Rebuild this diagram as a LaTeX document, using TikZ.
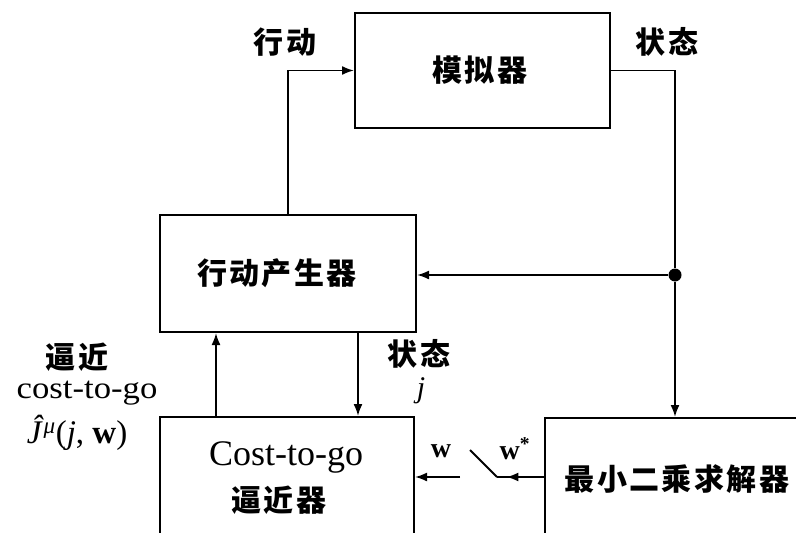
\documentclass[tikz,border=0pt]{standalone}
\usepackage{fontspec}
\setmainfont{Liberation Serif}
\usetikzlibrary{arrows.meta,decorations.markings}
\newfontfamily\cjk[LetterSpace=8]{Noto Sans CJK SC}
\tikzset{
  box/.style={draw, line width=2pt, inner sep=0pt},
  conn/.style={line width=1.9pt},
  arr/.style={conn, -{Latex[length=12pt,width=9pt]}},
  midarr/.style={conn, postaction={decorate}, decoration={markings, mark=at position #1 with {\arrow{Latex[length=12pt,width=9pt]}}}},
  cjklbl/.style={inner sep=0pt, font=\cjk\bfseries\fontsize{30}{33}\selectfont},
  latlbl/.style={inner sep=0pt, font=\fontsize{36}{40}\selectfont},
}
\begin{document}
\begin{tikzpicture}[x=1pt,y=-1pt]
\useasboundingbox (0,0) rectangle (796,533);
\fill[white] (0,0) rectangle (796,533);
% boxes
\node[box, minimum width=255pt, minimum height=115pt] (sim) at (482.5,70.5) {};
\node[box, minimum width=256pt, minimum height=117pt] (act) at (288,273.5) {};
\node[box, minimum width=254pt, minimum height=138pt] (cost) at (287,486) {};
\node[box, minimum width=270pt, minimum height=122pt] (ls) at (680,479) {};
% box texts
\node[cjklbl] (simt) at (480,70) {模拟器};
\node[cjklbl] (actt) at (277,273) {行动产生器};
\node[latlbl] (costt1) at (286,457) {Cost-to-go};
\node[cjklbl] (costt2) at (279,500) {逼近器};
\node[cjklbl] (lst) at (677,479) {最小二乘求解器};
% junction dot
\node[circle, fill, inner sep=0pt, minimum size=13pt] (dot) at (675,275) {};
% switch points
\coordinate (swA) at (470,450);
\coordinate (swB) at (497,477);
\coordinate (swC) at (460,477);
% connectors
\draw[arr] (act.north) |- (sim.west);
\draw[conn] (sim.east) -| (dot);
\draw[arr] (dot) -- (dot -| act.east);
\draw[arr] (dot) -- (dot |- ls.north);
\draw[arr] ([xshift=57pt]cost.north west) -- ([xshift=57pt]act.south west);
\draw[arr] ([xshift=199pt]act.south west) -- ([xshift=199pt]cost.north west);
\draw[midarr=0.8] (ls.west |- swB) -- (swB);
\draw[conn] (swB) -- (swA);
\draw[arr] (swC) -- (swC -| cost.east);
% labels
\node[cjklbl] (lact) at (285,42) {行动};
\node[cjklbl] (lstate1) at (667,42) {状态};
\node[cjklbl] (lstate2) at (419,354) {状态};
\node[inner sep=0pt, font=\itshape\fontsize{30}{32}\selectfont] (lj) at (421,391) {j};
\node[cjklbl] (lappr) at (77,357) {逼近};
\node[inner sep=0pt, font=\fontsize{31}{34}\selectfont, xscale=1.12, transform shape] (lctg) at (87,393) {cost-to-go};
\node[inner sep=0pt, font=\fontsize{33}{35}\selectfont, anchor=base] (lJ) at (77,443) {\textit{Ĵ}\textsuperscript{\textit{μ}}(\textit{j}, \textbf{w})};
\node[inner sep=0pt, font=\bfseries\fontsize{28}{30}\selectfont] (lw) at (441,451) {w};
\node[inner sep=0pt, font=\bfseries\fontsize{28}{30}\selectfont] (lws) at (515,449) {w\textsuperscript{*}};
\end{tikzpicture}
\end{document}
